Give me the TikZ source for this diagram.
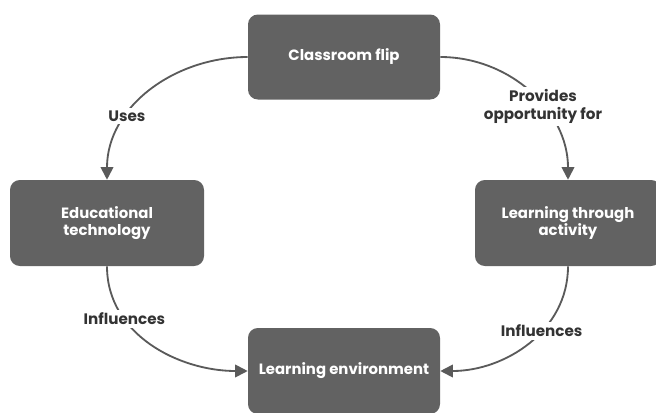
\documentclass[tikz,border=0pt]{standalone}
\usepackage{fontspec}
\setmainfont{Poppins}
\usepackage{xcolor}
\usepackage{tikz}
\usetikzlibrary{arrows.meta, positioning}
\definecolor{boxgray}{RGB}{98, 98, 98}
\definecolor{linegray}{RGB}{90, 90, 90}
\tikzstyle{concept} = [
    rectangle,
    rounded corners=7pt,
    minimum width=4.8cm,
    minimum height=2.15cm,
    align=center,
    text=white,
    fill=boxgray,
    font=\fontsize{10.6}{12.6}\selectfont\bfseries
]
\tikzstyle{link} = [
    line width=1.3pt,
    -{Triangle[length=9pt, width=9pt]},
    color=linegray
]
\tikzstyle{tag} = [
    fill=white,
    inner sep=2pt,
    align=center,
    text=black!80,
    font=\fontsize{10.8}{12.4}\selectfont\bfseries
]

\begin{document}
\begin{tikzpicture}
    \useasboundingbox (0,0) rectangle (16.4,-10.3);
    % Concepts
    \node[concept, minimum height=2.125cm] (flip) at (8.6, -1.425) {Classroom flip};
    \node[concept, minimum width=4.85cm] (edtech) at (2.675, -5.575) {Educational\\technology};
    \node[concept, minimum width=4.65cm] (activity) at (14.2, -5.575) {Learning through\\activity};
    \node[concept] (environment) at (8.6, -9.275) {Learning environment};

    % Links
    \draw[link] (flip.west) to[out=180, in=90] node[tag, pos=0.67]{Uses} (edtech.north);
    \draw[link] (flip.east) to[out=0, in=90] node[tag, pos=0.6]{Provides\\opportunity for} (activity.north);
    \draw[link] (edtech.south) to[out=-90, in=180] node[tag, pos=0.3]{Influences} (environment.west);
    \draw[link] (activity.south) to[out=-90, in=0] node[tag, pos=0.4]{Influences} (environment.east);
\end{tikzpicture}
\end{document}
